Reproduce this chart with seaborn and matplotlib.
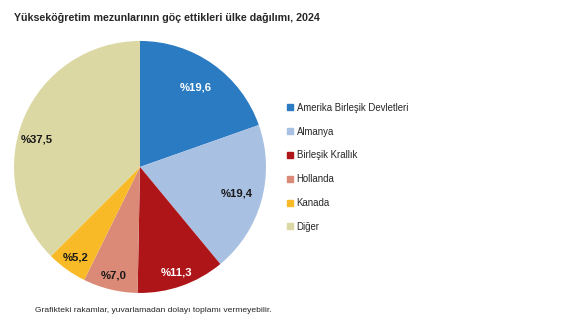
import matplotlib
matplotlib.use("Agg")
import matplotlib.pyplot as plt
from matplotlib.lines import Line2D
import numpy as np
import seaborn as sns

categories = ["Amerika Birleşik Devletleri", "Almanya", "Birleşik Krallık", "Hollanda", "Kanada", "Diğer"]
values = [19.6, 19.4, 11.3, 7.0, 5.2, 37.5]
labels = ["%19,6", "%19,4", "%11,3", "%7,0", "%5,2", "%37,5"]
colors = ["#2a7bc2", "#a8c0e2", "#ae1519", "#da8a77", "#f8bb27", "#dcd8a4"]
label_colors = ["white", "#1a1a1a", "white", "#1a1a1a", "#1a1a1a", "#1a1a1a"]
label_r = [0.77, 0.80, 0.89, 0.89, 0.88, 0.845]
label_dang = [0, 0, 0, 0, 0, 7.8]

sns.set_theme(style="white")
plt.rcParams["font.family"] = ["Liberation Sans", "DejaVu Sans"]

fig = plt.figure(figsize=(5.76, 3.24), dpi=100)
ax = fig.add_axes([0.0243, 0.0957, 0.4375, 0.778])
wedges, _ = ax.pie(values, colors=colors, startangle=90, counterclock=False,
                   wedgeprops=dict(linewidth=0))
ax.set_aspect("equal")
ax.set_xlim(-1, 1)
ax.set_ylim(-1, 1)
for w, lab, c, r, da in zip(wedges, labels, label_colors, label_r, label_dang):
    ang = np.deg2rad((w.theta1 + w.theta2) / 2 + da)
    ax.text(r * np.cos(ang), r * np.sin(ang), lab, ha="center", va="center",
            fontsize=8.2, fontweight="bold", color=c)

handles = [Line2D([0], [0], marker="s", linestyle="none", markersize=4,
                  markerfacecolor=c, markeredgecolor=c) for c in colors]
fig.legend(handles, categories, loc="upper left", bbox_to_anchor=(0.499, 0.683),
           frameon=False, fontsize=6.9, handlelength=0.6, handletextpad=0.35,
           labelspacing=1.44, borderaxespad=0, borderpad=0)

fig.text(14 / 576, 1 - 18 / 324, "Yükseköğretim mezunlarının göç ettikleri ülke dağılımı, 2024",
         fontsize=7.65, fontweight="bold", ha="left", va="center")
fig.text(35 / 576, 1 - 310 / 324, "Grafikteki rakamlar, yuvarlamadan dolayı toplamı vermeyebilir.",
         fontsize=6.1, ha="left", va="center")

fig.savefig("out.png", dpi=100)
